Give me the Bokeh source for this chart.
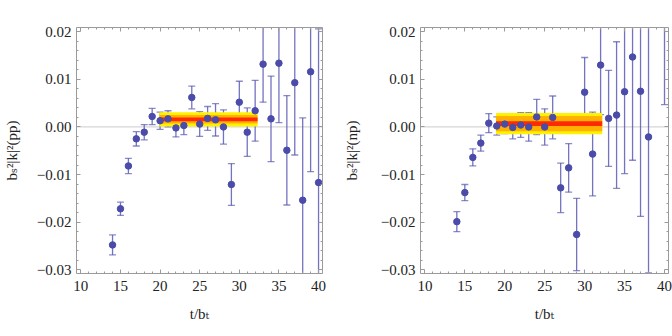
from bokeh.plotting import figure
from bokeh.layouts import row
from bokeh.models import (Range1d, FixedTicker, CustomJSTickFormatter, LinearAxis,
                          ColumnDataSource, Whisker, TeeHead, Span)
from bokeh.embed import file_html
from bokeh.resources import INLINE

# ---------------- data ----------------
t_pp = [14, 15, 16, 17, 18, 19, 20, 21, 22, 23, 24, 25, 26, 27, 28, 29, 30, 31, 32, 33, 34, 35, 36, 37, 38, 39, 40]
val_pp = [-0.0248, -0.0172, -0.0082, -0.0025, -0.0011, 0.0022, 0.0013, 0.0017, -0.0002, 0.0003,
          0.0062, 0.0006, 0.0018, 0.0015, 0.0000, -0.0121, 0.0052, -0.0011, 0.0034, 0.0132,
          0.0017, 0.0134, -0.0049, 0.0093, -0.0154, 0.0116, -0.0117]
err_pp = [0.0021, 0.0014, 0.0016, 0.0015, 0.0016, 0.0017, 0.0018, 0.0017, 0.0019, 0.0019,
          0.0024, 0.0026, 0.0025, 0.0034, 0.0036, 0.0044, 0.0044, 0.0051, 0.0064, 0.0080,
          0.0090, 0.0125, 0.0115, 0.0152, 0.0173, 0.0210, 0.0323]

t_np = [14, 15, 16, 17, 18, 19, 20, 21, 22, 23, 24, 25, 26, 27, 28, 29, 30, 31, 32, 33, 34, 35, 36, 37, 38, 40]
val_np = [-0.0199, -0.0138, -0.0064, -0.0034, 0.0008, 0.0002, 0.0006, -0.0001, 0.0004, 0.0000,
          0.0021, 0.0000, 0.0020, -0.0128, -0.0086, -0.0226, 0.0073, -0.0057, 0.0130, 0.0018,
          0.0025, 0.0074, 0.0147, 0.0075, -0.0021, 0.0300]
err_np = [0.0021, 0.0017, 0.0018, 0.0017, 0.0020, 0.0019, 0.0020, 0.0024, 0.0026, 0.0030,
          0.0037, 0.0038, 0.0045, 0.0052, 0.0051, 0.0076, 0.0073, 0.0088, 0.0104, 0.0101,
          0.0154, 0.0172, 0.0217, 0.0263, 0.0286, 0.0253]

# fit bands: [t_start, t_end], centre, half widths (yellow, orange, red)
band_t_pp = [19.9, 32.3]
band_center_pp = 0.0016
band_half_pp = [0.0015, 0.0009, 0.0004]

band_t_np = [18.9, 32.2]
band_center_np = 0.0007
band_half_np = [0.00225, 0.0016, 0.0005]

x_ticks = [10, 15, 20, 25, 30, 35, 40]
x_tick_labels = ["10", "15", "20", "25", "30", "35", "40"]
y_ticks = [-0.03, -0.02, -0.01, 0.0, 0.01, 0.02]
y_tick_labels = ["\u22120.03", "\u22120.02", "\u22120.01", "0.00", "0.01", "0.02"]

x_label = "t/b\u209c"
y_label_pp = "b\u209b\u00b2|k|\u00b2(pp)"
y_label_np = "b\u209b\u00b2|k|\u00b2(np)"

# ---------------- styling ----------------
FONT = "'Liberation Serif', 'DejaVu Serif', serif"
AXIS_GRAY = "#9a9a9a"
PT_COLOR = "#4b4ba9"
BAR_COLOR = "#5a5ab4"
BAND_COLORS = ["#fff200", "#ffb000", "#ff2a00"]

x_minor = list(range(9, 41))
y_minor = [round(-0.032 + 0.002 * i, 4) for i in range(28)]

LABEL_JS = """
let best = 0;
for (let i = 0; i < tv.length; i++) {
  if (Math.abs(tv[i] - tick) < Math.abs(tv[best] - tick)) best = i;
}
return tl[best];
"""


def style_axis(ax, ticks, minor, labels, show_labels):
    ax.ticker = FixedTicker(ticks=ticks, minor_ticks=minor)
    ax.axis_line_color = AXIS_GRAY
    ax.major_tick_line_color = AXIS_GRAY
    ax.minor_tick_line_color = AXIS_GRAY
    ax.major_tick_in = 4
    ax.major_tick_out = 0
    ax.minor_tick_in = 2
    ax.minor_tick_out = 0
    if show_labels:
        ax.formatter = CustomJSTickFormatter(args=dict(tv=ticks, tl=labels), code=LABEL_JS)
        ax.major_label_text_font = FONT
        ax.major_label_text_font_size = "15px"
        ax.major_label_text_color = "#222222"
    else:
        ax.formatter = CustomJSTickFormatter(code="return '';")
        ax.major_label_text_font_size = "0px"
        ax.major_label_standoff = 0


def make_panel(t, v, e, band_t, band_c, band_h, ylab, border_left, border_right, ylab_standoff):
    p = figure(width=336, height=332, output_backend="svg", toolbar_location=None,
               x_range=Range1d(9.45, 40.5), y_range=Range1d(-0.0308, 0.0209),
               min_border_left=border_left, min_border_right=border_right,
               min_border_top=27, min_border_bottom=59)
    p.xgrid.visible = False
    p.ygrid.visible = False
    p.outline_line_color = None
    p.background_fill_color = "white"
    p.border_fill_color = "white"

    style_axis(p.xaxis[0], x_ticks, x_minor, x_tick_labels, True)
    style_axis(p.yaxis[0], y_ticks, y_minor, y_tick_labels, True)
    p.xaxis[0].major_label_standoff = 7
    p.yaxis[0].major_label_standoff = 5
    p.xaxis[0].axis_label = x_label
    p.xaxis[0].axis_label_text_font = FONT
    p.xaxis[0].axis_label_text_font_style = "normal"
    p.xaxis[0].axis_label_text_font_size = "15px"
    p.xaxis[0].axis_label_text_color = "#222222"
    p.xaxis[0].axis_label_standoff = 12
    p.yaxis[0].axis_label = ylab
    p.yaxis[0].axis_label_text_font = FONT
    p.yaxis[0].axis_label_text_font_style = "normal"
    p.yaxis[0].axis_label_text_font_size = "15px"
    p.yaxis[0].axis_label_text_color = "#222222"
    p.yaxis[0].axis_label_standoff = ylab_standoff

    top = LinearAxis()
    style_axis(top, x_ticks, x_minor, x_tick_labels, False)
    p.add_layout(top, "above")
    right = LinearAxis()
    style_axis(right, y_ticks, y_minor, y_tick_labels, False)
    p.add_layout(right, "right")

    p.add_layout(Span(location=0, dimension="width", line_color="#d6d6d6",
                      line_width=1.2, level="underlay"))

    n = len(band_h)
    p.quad(left=[band_t[0]] * n, right=[band_t[1]] * n,
           bottom=[band_c - h for h in band_h], top=[band_c + h for h in band_h],
           fill_color=BAND_COLORS, line_color=None)

    src = ColumnDataSource(dict(t=t, v=v,
                                lo=[a - b for a, b in zip(v, e)],
                                hi=[a + b for a, b in zip(v, e)]))
    w = Whisker(source=src, base="t", lower="lo", upper="hi",
                line_color=BAR_COLOR, line_width=1.3, line_alpha=0.85,
                lower_head=TeeHead(size=7, line_color=BAR_COLOR, line_width=1.3, line_alpha=0.7),
                upper_head=TeeHead(size=7, line_color=BAR_COLOR, line_width=1.3, line_alpha=0.7))
    p.add_layout(w)
    p.scatter("t", "v", source=src, size=6.5, color=PT_COLOR)
    return p


p1 = make_panel(t_pp, val_pp, err_pp, band_t_pp, band_center_pp, band_half_pp,
                y_label_pp, 73, 14, 14)
p2 = make_panel(t_np, val_np, err_np, band_t_np, band_center_np, band_half_np,
                y_label_np, 84, 4, 18)

layout = row(p1, p2)
open("out.html", "w").write(file_html(layout, INLINE))
